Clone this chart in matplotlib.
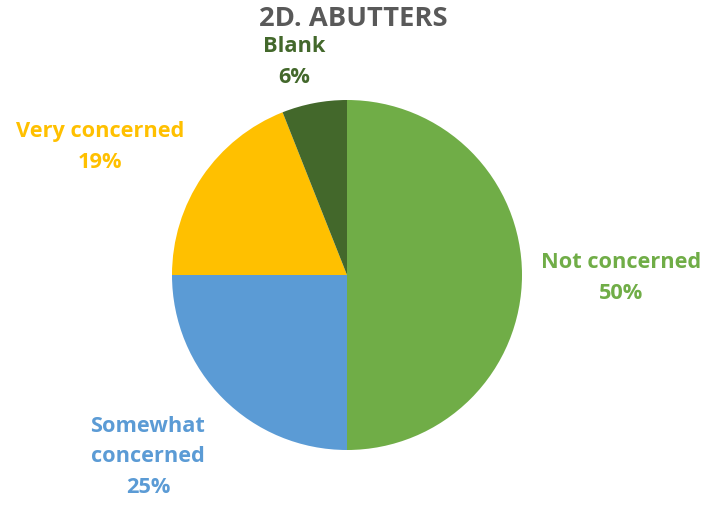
import matplotlib.pyplot as plt

# -------- DATA -------- #
categories = ["Not concerned", "Somewhat\nconcerned", "Very concerned", "Blank"]
values = [50, 25, 19, 6]
colors = ["#70AD47", "#5B9BD5", "#FFC000", "#43682B"]
label_colors = ["#70AD47", "#5B9BD5", "#FFC000", "#43682B"]

# label positions in pixel coords of the reference (x, y from top)
label_px = [(621, 278), (148, 457), (100, 147), (294, 62)]

W, H = 706, 506
cx, cy, R = 347, 276, 175

plt.rcParams['font.family'] = ['Open Sans', 'DejaVu Sans']

fig = plt.figure(figsize=(W / 100, H / 100), dpi=100)
ax = fig.add_axes([0, 0, 1, 1])

ax.pie(values, colors=colors, startangle=90, counterclock=False,
       radius=1, wedgeprops=dict(linewidth=0))

ax.set_xlim(-cx / R, (W - cx) / R)
ax.set_ylim(-(H - cy) / R, cy / R)
ax.set_aspect('equal')
ax.axis('off')

for name, v, col, (px, py) in zip(categories, values, label_colors, label_px):
    ax.text((px - cx) / R, (cy - py) / R, f"{name}\n{v}%", color=col,
            fontsize=15.7, fontweight='bold', ha='center', va='center',
            linespacing=1.6)

fig.text(0.5, 1 - 19 / H, "2D. ABUTTERS", color="#595959", fontsize=19.7,
         fontweight='bold', ha='center', va='center')

fig.savefig("out.png", dpi=100)
